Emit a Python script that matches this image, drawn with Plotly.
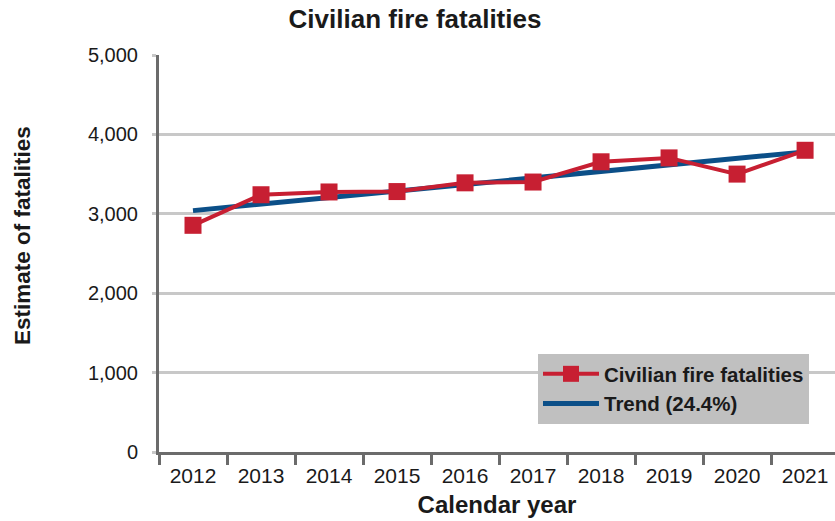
import plotly.graph_objects as go

# Civilian fire fatality estimates by calendar year
years = ["2012", "2013", "2014", "2015", "2016", "2017", "2018", "2019", "2020", "2021"]
fatalities = [2855, 3240, 3275, 3280, 3390, 3400, 3655, 3704, 3500, 3800]

# Linear trend line, first and last year
trend_years = ["2012", "2021"]
trend_values = [3040, 3780]

y_ticks = [0, 1000, 2000, 3000, 4000, 5000]

RED = "#C71F32"
BLUE = "#0B4F88"
GRID = "#C8C8C8"
AXIS = "#6B6B6B"
TEXT = "#1A1A1A"
FONT = "Liberation Sans, Arial, sans-serif"

fig = go.Figure()

fig.add_trace(go.Scatter(
    x=trend_years, y=trend_values,
    mode="lines",
    name="Trend (24.4%)",
    line=dict(color=BLUE, width=5),
    legendrank=2,
    hoverinfo="skip",
))

fig.add_trace(go.Scatter(
    x=years, y=fatalities,
    mode="lines+markers",
    name="Civilian fire fatalities",
    line=dict(color=RED, width=4),
    marker=dict(symbol="square", size=17, color=RED),
    legendrank=1,
    hoverinfo="skip",
))

fig.update_layout(
    width=835, height=521,
    margin=dict(l=159, r=0, t=55, b=69),
    paper_bgcolor="white",
    plot_bgcolor="white",
    font=dict(family=FONT, color=TEXT),
    title=dict(
        text="Civilian fire fatalities",
        x=0.497, xanchor="center",
        y=1 - 19 / 521, yanchor="middle",
        font=dict(family=FONT, size=26, weight="bold", color=TEXT),
    ),
    showlegend=True,
    legend=dict(
        x=(538 - 159) / 676, xanchor="left",
        y=(452 - 354) / 397, yanchor="top",
        bgcolor="#C0C0C0",
        borderwidth=0,
        font=dict(family=FONT, size=20.5, weight="bold", color=TEXT),
        itemwidth=56,
        tracegroupgap=0,
    ),
)

fig.update_xaxes(
    type="category",
    categoryorder="array", categoryarray=years,
    range=[-0.5, 9.44],
    tickson="boundaries",
    ticks="outside", ticklen=10, tickwidth=2.5, tickcolor=AXIS,
    ticklabelstandoff=3,
    showline=True, linecolor=AXIS, linewidth=3,
    showgrid=False, zeroline=False,
    tickfont=dict(family=FONT, size=21, color=TEXT),
    title=dict(
        text="Calendar year",
        font=dict(family=FONT, size=24, weight="bold", color=TEXT),
        standoff=10,
    ),
)

fig.update_yaxes(
    range=[0, 5000],
    tickvals=y_ticks,
    tickformat=",",
    ticks="outside", ticklen=4, tickwidth=3, tickcolor=GRID,
    ticklabelstandoff=10,
    showline=True, linecolor=AXIS, linewidth=3,
    showgrid=True, gridcolor=GRID, gridwidth=3,
    zeroline=False,
    tickfont=dict(family=FONT, size=20, color=TEXT),
)

# Vertical axis title
fig.add_annotation(
    text="Estimate of fatalities",
    xref="paper", yref="paper",
    x=0, xanchor="center", xshift=-136,
    y=(452 - 236) / 397, yanchor="middle",
    textangle=-90,
    showarrow=False,
    font=dict(family=FONT, size=22.5, weight="bold", color=TEXT),
)

fig.write_html("out.html", config={"displayModeBar": False})
